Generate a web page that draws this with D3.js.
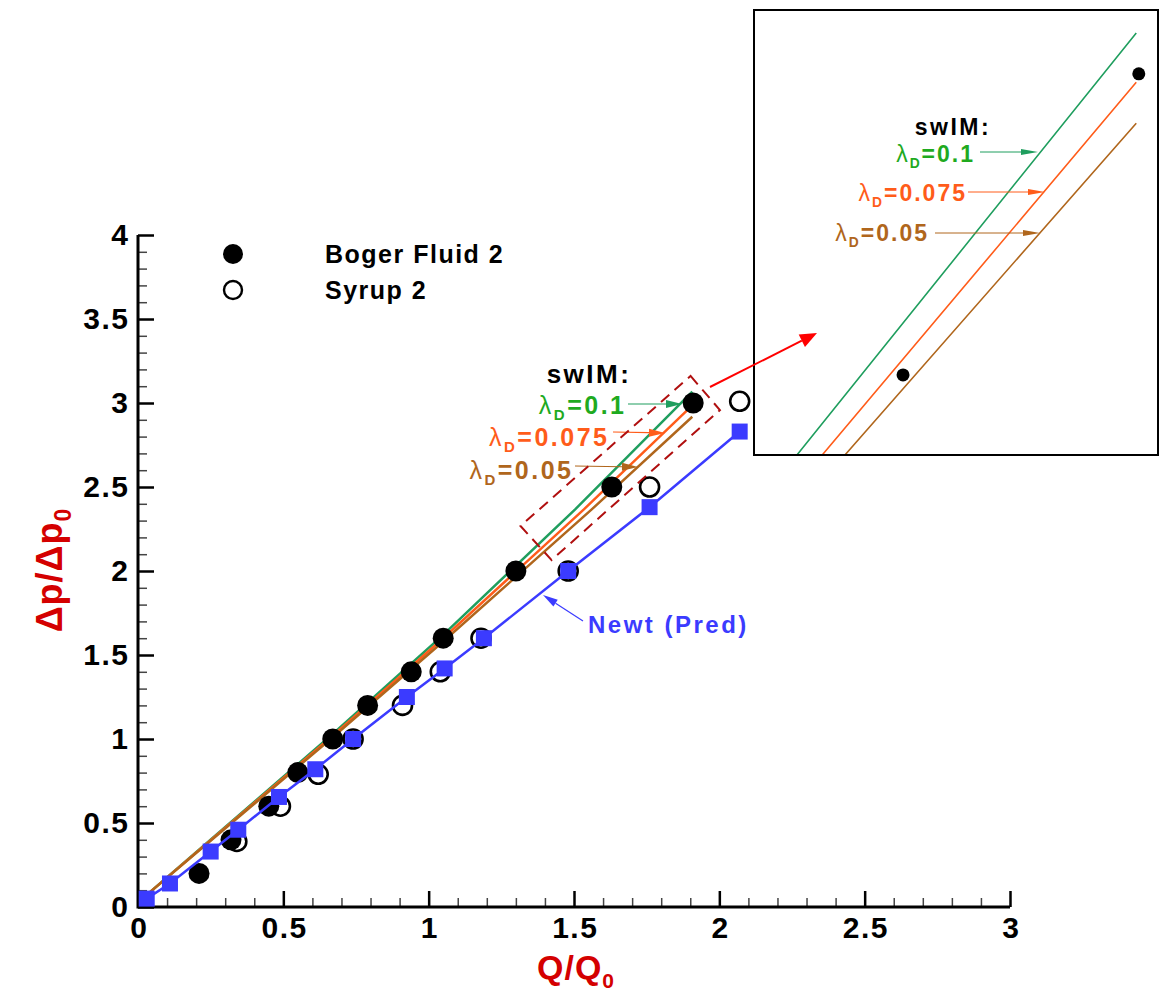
<!DOCTYPE html>
<html><head><meta charset="utf-8">
<script src="https://cdn.jsdelivr.net/npm/d3@7"></script>
<style>body{margin:0;background:#fff}svg{display:block}text{font-family:"Liberation Sans",Arial,sans-serif;font-weight:bold}</style>
</head><body>
<svg id="c" width="1159" height="993"></svg>
<script>
// ---- data ----
const xTickValues = [0, 0.5, 1, 1.5, 2, 2.5, 3];
const xTickLabels = ["0", "0.5", "1", "1.5", "2", "2.5", "3"];
const yTickValues = [0, 0.5, 1, 1.5, 2, 2.5, 3, 3.5, 4];
const yTickLabels = ["0", "0.5", "1", "1.5", "2", "2.5", "3", "3.5", "4"];

const bogerQ = [0.21, 0.32, 0.45, 0.55, 0.67, 0.79, 0.94, 1.05, 1.30, 1.63, 1.91];
const bogerP = [0.20, 0.40, 0.60, 0.80, 1.00, 1.20, 1.40, 1.60, 2.00, 2.50, 3.00];
const syrupQ = [0.34, 0.49, 0.62, 0.74, 0.91, 1.04, 1.18, 1.48, 1.76, 2.07];
const syrupP = [0.39, 0.60, 0.79, 1.00, 1.20, 1.40, 1.60, 2.00, 2.50, 3.01];
const newtQ = [0.03, 0.11, 0.25, 0.345, 0.485, 0.61, 0.74, 0.925, 1.055, 1.19, 1.48, 1.76, 2.07];
const newtP = [0.05, 0.14, 0.33, 0.46, 0.655, 0.82, 1.00, 1.25, 1.42, 1.60, 2.00, 2.38, 2.83];

const swimQ_01  = [0.015, 0.67, 1.05, 1.504, 1.907];
const swimP_01  = [0.05, 1.03, 1.62, 2.367, 3.068];
const swimQ_075 = [0.015, 0.67, 1.05, 1.534, 1.907];
const swimP_075 = [0.05, 1.02, 1.60, 2.367, 2.986];
const swimQ_05  = [0.015, 0.67, 1.05, 1.561, 1.907];
const swimP_05  = [0.05, 1.01, 1.58, 2.367, 2.918];

const swimLabels = ["0.1", "0.075", "0.05"];
const legendLabels = ["Boger Fluid 2", "Syrup 2"];
const zoomBoxQ = [1.901, 2.002, 1.423, 1.316];
const zoomBoxP = [3.161, 2.958, 2.065, 2.268];
const insetQ = [1.453, 1.934];
const insetP = [2.367, 3.106];

// ---- setup ----
const svg = d3.select("#c");
const x = d3.scaleLinear().domain([0, 3]).range([138, 1010]);
const y = d3.scaleLinear().domain([0, 4]).range([907, 235]);
const zip = (a, b) => a.map((v, i) => [v, b[i]]);

const GREEN_L = "#1f9e5e", GREEN_T = "#1faa1f", ORANGE = "#ff5c1a", BROWN = "#b0661c", BLUE = "#3b3bff", DRED = "#b00f0f";
const swimSeries = [
  {q: swimQ_01, p: swimP_01, c: GREEN_L},
  {q: swimQ_075, p: swimP_075, c: ORANGE},
  {q: swimQ_05, p: swimP_05, c: BROWN}
];

const defs = svg.append("defs");
defs.append("clipPath").attr("id", "insetClip").append("rect")
  .attr("x", 754).attr("y", 10).attr("width", 405).attr("height", 445);

// ---- axes ----
const minorX = d3.range(0, 31).map(i => i / 10).filter(v => Math.round(v * 10) % 5 !== 0);
const minorY = d3.range(0, 41).map(i => i / 10).filter(v => Math.round(v * 10) % 5 !== 0);
const TICKFS = 30, TICKLS = 1.5;

const gx = svg.append("g").attr("transform", `translate(0,${y(0)})`);
gx.call(d3.axisBottom(x).tickValues(minorX).tickSize(-9).tickFormat(""));
gx.selectAll("path").remove();
gx.selectAll("line").attr("stroke", "#444").attr("stroke-width", 1.5);
const gx2 = svg.append("g").attr("transform", `translate(0,${y(0)})`);
gx2.call(d3.axisBottom(x).tickValues(xTickValues).tickSize(-16).tickPadding(10)
  .tickFormat((d, i) => xTickLabels[i]));
gx2.select("path").remove();
gx2.selectAll("line").attr("stroke", "#000").attr("stroke-width", 2.5);
gx2.selectAll("text").attr("font-size", TICKFS).attr("fill", "#000").attr("font-family", "Liberation Sans, Arial")
  .attr("font-weight", "bold").attr("letter-spacing", TICKLS).attr("dx", TICKLS / 2);

const gy = svg.append("g").attr("transform", `translate(${x(0)},0)`);
gy.call(d3.axisLeft(y).tickValues(minorY).tickSize(-9).tickFormat(""));
gy.selectAll("path").remove();
gy.selectAll("line").attr("stroke", "#444").attr("stroke-width", 1.5);
const gy2 = svg.append("g").attr("transform", `translate(${x(0)},0)`);
gy2.call(d3.axisLeft(y).tickValues(yTickValues).tickSize(-16).tickPadding(10)
  .tickFormat((d, i) => yTickLabels[i]));
gy2.select("path").remove();
gy2.selectAll("line").attr("stroke", "#000").attr("stroke-width", 2.5);
gy2.selectAll("text").attr("font-size", TICKFS).attr("fill", "#000").attr("font-family", "Liberation Sans, Arial")
  .attr("font-weight", "bold").attr("letter-spacing", TICKLS).attr("dx", TICKLS);

svg.append("path").attr("d", `M${x(0)},${y(4)}V${y(0)}H${x(3)}`)
  .attr("fill", "none").attr("stroke", "#000").attr("stroke-width", 3);

// axis titles
const xt = svg.append("text").attr("x", 576).attr("y", 979).attr("text-anchor", "middle")
  .attr("fill", "#d40000").attr("font-size", 34).attr("letter-spacing", 1);
xt.append("tspan").text("Q/Q");
xt.append("tspan").attr("font-size", 21).attr("dy", 9).text("0");

const yt = svg.append("text").attr("transform", "translate(62,570) rotate(-90)").attr("text-anchor", "middle")
  .attr("fill", "#d40000").attr("font-size", 36).attr("letter-spacing", 1);
yt.append("tspan").text("Δp/Δp");
yt.append("tspan").attr("font-size", 23).attr("dy", 9).text("0");

// ---- swIM lines ----
const line = d3.line().x(d => x(d[0])).y(d => y(d[1]));
svg.selectAll(".swim").data(swimSeries).join("path")
  .attr("d", s => line(zip(s.q, s.p)))
  .attr("fill", "none").attr("stroke", s => s.c).attr("stroke-width", 2.5);

// ---- circles ----
svg.append("g").selectAll("circle").data(zip(syrupQ, syrupP)).join("circle")
  .attr("cx", d => x(d[0])).attr("cy", d => y(d[1])).attr("r", 9.5)
  .attr("fill", "none").attr("stroke", "#000").attr("stroke-width", 2.6);
svg.append("g").selectAll("circle").data(zip(bogerQ, bogerP)).join("circle")
  .attr("cx", d => x(d[0])).attr("cy", d => y(d[1])).attr("r", 10.5).attr("fill", "#000");

// ---- Newt line & squares ----
svg.append("path").attr("d", line(zip(newtQ, newtP)))
  .attr("fill", "none").attr("stroke", BLUE).attr("stroke-width", 2.5);
svg.append("g").selectAll("rect").data(zip(newtQ, newtP)).join("rect")
  .attr("x", d => x(d[0]) - 8).attr("y", d => y(d[1]) - 8).attr("width", 16).attr("height", 16)
  .attr("fill", BLUE);

// ---- helpers ----
function arrow(g, x1, y1, x2, y2, color, w, hl, hw) {
  const a = Math.atan2(y2 - y1, x2 - x1);
  const bx = x2 - hl * Math.cos(a), by = y2 - hl * Math.sin(a);
  g.append("line").attr("x1", x1).attr("y1", y1).attr("x2", bx).attr("y2", by)
    .attr("stroke", color).attr("stroke-width", w);
  const px = -Math.sin(a) * hw / 2, py = Math.cos(a) * hw / 2;
  g.append("path").attr("d", `M${x2},${y2}L${bx + px},${by + py}L${bx - px},${by - py}Z`).attr("fill", color);
}

function lambdaText(g, xr, yb, val, color, fs, ls) {
  const t = g.append("text").attr("x", xr + ls).attr("y", yb).attr("text-anchor", "end")
    .attr("fill", color).attr("font-size", fs).attr("letter-spacing", ls);
  t.append("tspan").attr("font-weight", "normal").text("λ");
  t.append("tspan").attr("font-size", fs * 0.6).attr("dy", fs * 0.25).text("D");
  t.append("tspan").attr("dy", -fs * 0.25).text("=" + val);
}

// ---- main annotations ----
const ann = svg.append("g");
ann.append("text").attr("x", 589).attr("y", 383).attr("text-anchor", "middle").attr("font-size", 26)
  .attr("letter-spacing", 2.5).attr("fill", "#000").text("swIM:");
lambdaText(ann, 624, 414, swimLabels[0], GREEN_T, 25, 2.5);
lambdaText(ann, 607, 446, swimLabels[1], ORANGE, 25, 2.5);
lambdaText(ann, 571, 479, swimLabels[2], BROWN, 25, 2.5);
arrow(ann, 628, 404, 682, 404, GREEN_L, 1.2, 16, 8);
arrow(ann, 613, 432, 665, 433, ORANGE, 1.2, 16, 8);
arrow(ann, 575, 466, 638, 467, BROWN, 1.2, 16, 8);

ann.append("text").attr("x", 588).attr("y", 633).attr("font-size", 24).attr("fill", BLUE).attr("letter-spacing", 2.5).text("Newt (Pred)");
arrow(ann, 583, 621, 543, 595, BLUE, 1.2, 15, 8);

// dashed zoom box
svg.append("path").attr("d", d3.line().x(d => x(d[0])).y(d => y(d[1])).curve(d3.curveLinearClosed)(zip(zoomBoxQ, zoomBoxP)))
  .attr("fill", "none").attr("stroke", DRED).attr("stroke-width", 2).attr("stroke-dasharray", "11,7");

// ---- inset ----
const ix = d3.scaleLinear().domain(insetQ).range([754, 1159]);
const iy = d3.scaleLinear().domain(insetP).range([455, 10]);
const ins = svg.append("g");
ins.append("rect").attr("x", 754).attr("y", 10).attr("width", 405).attr("height", 445).attr("fill", "#fff");
const iline = d3.line().x(d => ix(d[0])).y(d => iy(d[1]));
ins.append("g").attr("clip-path", "url(#insetClip)").selectAll("path").data(swimSeries).join("path")
  .attr("d", s => iline(zip(s.q, s.p)))
  .attr("fill", "none").attr("stroke", s => s.c).attr("stroke-width", 1.6);
ins.append("g").attr("clip-path", "url(#insetClip)").selectAll("circle")
  .data(zip(bogerQ, bogerP).filter(d => d[0] >= insetQ[0] && d[0] <= insetQ[1] && d[1] >= insetP[0] && d[1] <= insetP[1]))
  .join("circle").attr("cx", d => ix(d[0])).attr("cy", d => iy(d[1])).attr("r", 6.5).attr("fill", "#000");
ins.append("text").attr("x", 953).attr("y", 135).attr("text-anchor", "middle").attr("font-size", 23)
  .attr("letter-spacing", 2.5).attr("fill", "#000").text("swIM:");
lambdaText(ins, 973, 162, swimLabels[0], GREEN_T, 23, 2);
lambdaText(ins, 965, 201, swimLabels[1], ORANGE, 23, 2);
lambdaText(ins, 927, 241, swimLabels[2], BROWN, 23, 2);
arrow(ins, 980, 152, 1038, 152, GREEN_L, 1, 17, 6);
arrow(ins, 968, 192, 1045, 192, ORANGE, 1, 17, 6);
arrow(ins, 935, 233, 1040, 233, BROWN, 1, 17, 6);
ins.append("rect").attr("x", 754).attr("y", 10).attr("width", 404).attr("height", 445)
  .attr("fill", "none").attr("stroke", "#000").attr("stroke-width", 2);

// red pointer arrow (drawn over the inset)
arrow(svg, 710, 387, 817, 333, "#ff0000", 2, 17, 14);

// ---- legend ----
const leg = svg.append("g");
leg.append("circle").attr("cx", 233).attr("cy", 254).attr("r", 10).attr("fill", "#000");
leg.append("circle").attr("cx", 233).attr("cy", 290).attr("r", 9).attr("fill", "none").attr("stroke", "#000").attr("stroke-width", 2.4);
leg.selectAll("text").data(legendLabels).join("text")
  .attr("x", 325).attr("y", (d, i) => 263 + i * 36).attr("font-size", 25).attr("letter-spacing", 1.5)
  .attr("fill", "#000").text(d => d);
</script>
</body></html>
